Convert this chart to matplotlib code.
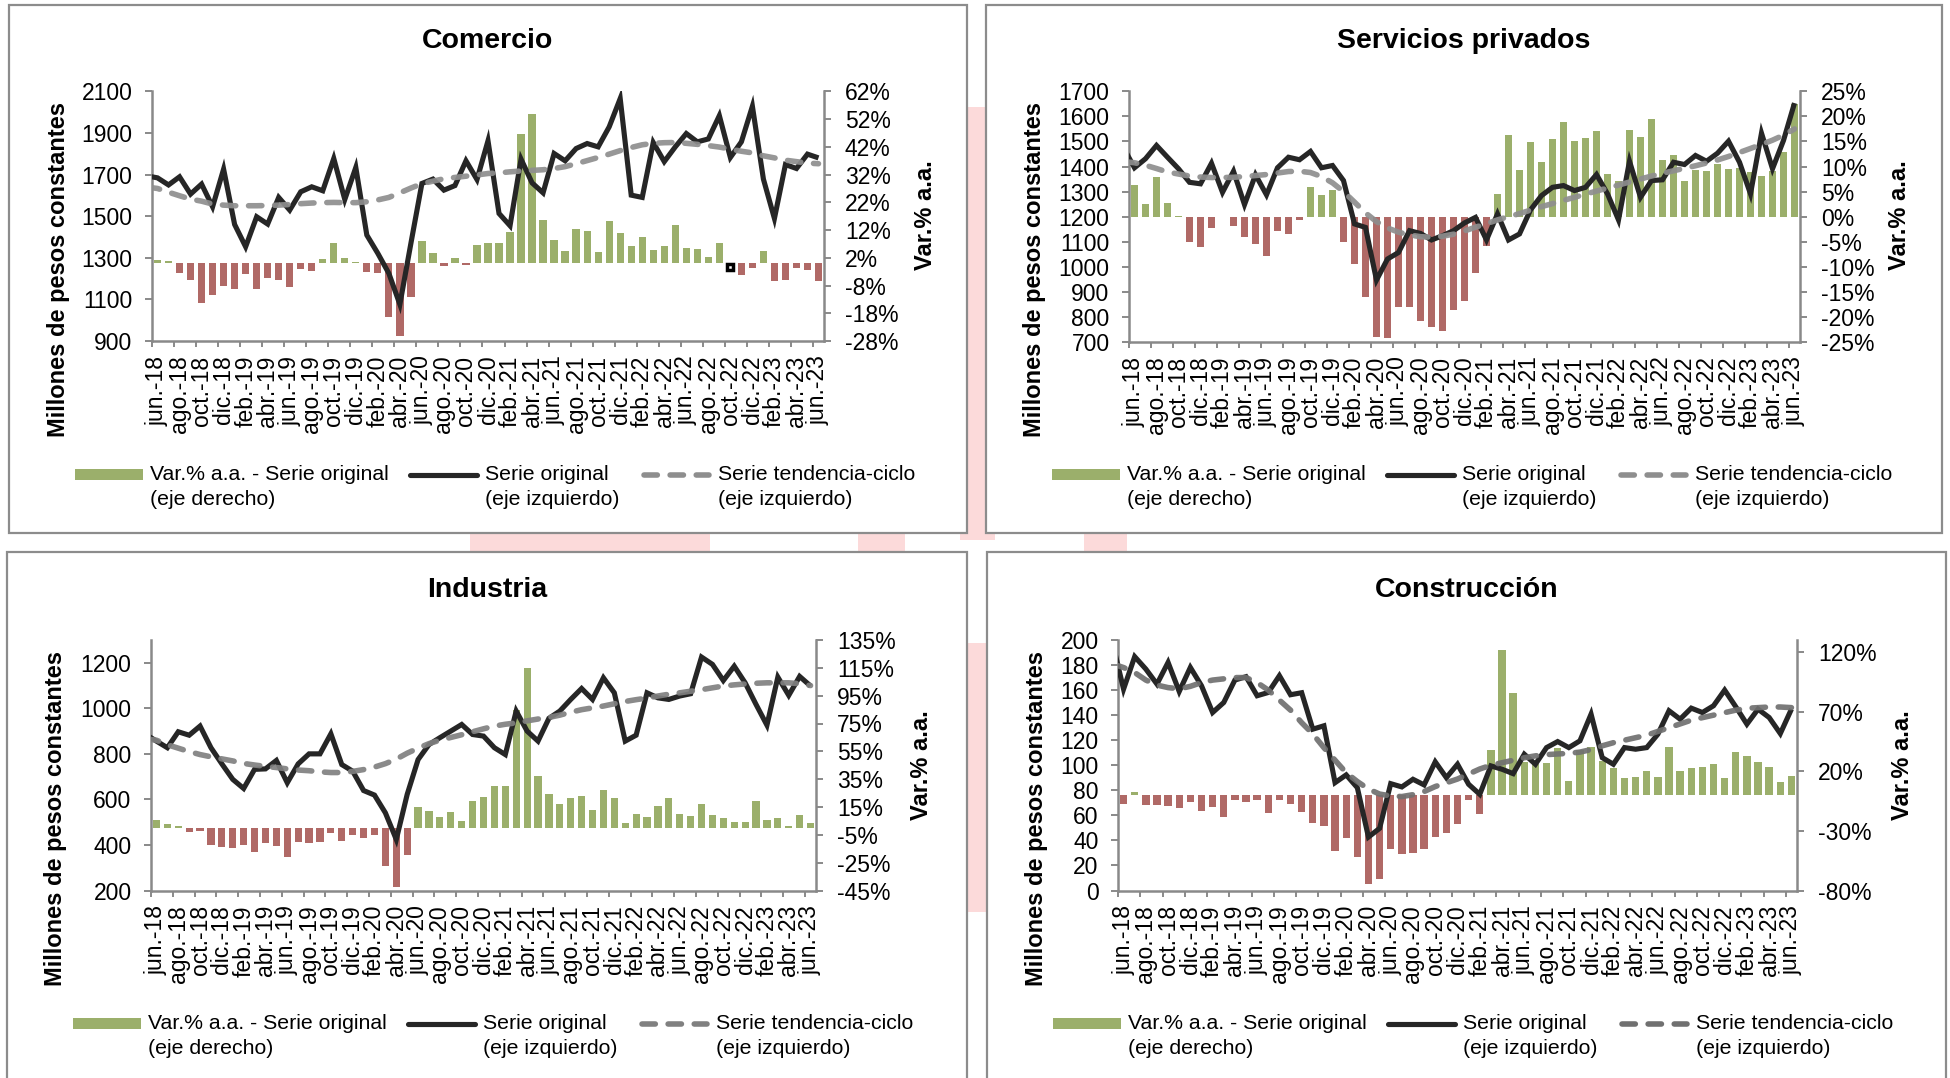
import matplotlib
matplotlib.use("Agg")
import matplotlib.pyplot as plt
from matplotlib.patches import Rectangle
from matplotlib.lines import Line2D
import numpy as np

plt.rcParams['font.family'] = ['Liberation Sans', 'DejaVu Sans']

# ---------------- categories ----------------
meses = ['ene.', 'feb.', 'mar.', 'abr.', 'may.', 'jun.', 'jul.', 'ago.', 'sep.', 'oct.', 'nov.', 'dic.']
categories = [f"{meses[(5 + k) % 12]}-{18 + (5 + k) // 12}" for k in range(61)]   # jun.-18 .. jun.-23
prev_category = 'may.-18'   # line series start one month earlier (clipped at the axis edge)

# ---------------- Comercio ----------------
com_var = [1.1, 0.8, -3.4, -6.0, -14.2, -11.3, -8.1, -9.3, -3.8, -9.3,
           -5.2, -6.0, -8.4, -2.1, -2.7, 1.5, 7.5, 1.8, 0.4, -3.2,
           -3.4, -19.2, -26.2, -12.0, 8.2, 3.8, -0.9, 1.9, -0.5, 6.6,
           7.3, 7.4, 11.2, 46.5, 53.7, 15.6, 8.4, 4.6, 12.2, 11.8,
           4.0, 15.2, 10.9, 6.1, 9.4, 4.8, 6.1, 13.9, 5.6, 5.2,
           2.4, 7.2, -1.5, -4.1, -1.6, 4.6, -6.3, -6.0, -1.6, -2.3,
           -6.3]
com_orig_prev = 1694
com_orig = [1684, 1650, 1689, 1606, 1654, 1545, 1726, 1460, 1353, 1497,
            1462, 1590, 1529, 1617, 1641, 1622, 1777, 1580, 1734, 1409,
            1321, 1225, 1076, 1369, 1657, 1678, 1625, 1647, 1766, 1676,
            1862, 1513, 1454, 1774, 1660, 1612, 1801, 1766, 1825, 1849,
            1833, 1929, 2065, 1601, 1590, 1854, 1762, 1833, 1897, 1857,
            1871, 1983, 1782, 1857, 2028, 1678, 1489, 1748, 1729, 1798,
            1780]
com_trend_prev = 1640
com_trend = [1633, 1615, 1598, 1582, 1572, 1558, 1553, 1550, 1550, 1550,
             1551, 1553, 1556, 1560, 1563, 1565, 1566, 1565, 1565, 1569,
             1578, 1590, 1612, 1635, 1656, 1668, 1680, 1686, 1692, 1698,
             1705, 1708, 1713, 1717, 1720, 1723, 1729, 1738, 1752, 1767,
             1782, 1798, 1815, 1830, 1843, 1850, 1853, 1854, 1850, 1845,
             1839, 1832, 1822, 1812, 1804, 1790, 1780, 1769, 1762, 1755,
             1752]
com_marked = 'oct.-22'

# ---------------- Servicios privados ----------------
ser_var = [6.3, 2.6, 8.0, 2.8, 0.2, -5.0, -6.1, -2.3, -0.1, -1.8,
           -4.1, -5.4, -7.8, -2.8, -3.4, -0.6, 5.9, 4.4, 5.4, -5.0,
           -9.5, -16.0, -24.0, -24.3, -18.0, -18.0, -20.9, -22.0, -22.9, -18.6,
           -16.9, -11.2, -5.9, 4.5, 16.2, 9.3, 14.9, 10.9, 15.5, 18.9,
           15.1, 15.6, 17.1, 8.6, 7.2, 17.3, 15.8, 19.5, 11.2, 12.3,
           7.2, 9.3, 9.1, 10.5, 9.6, 9.8, 8.9, 8.1, 9.1, 12.9,
           22.5]
ser_orig_prev = 1475
ser_orig = [1395, 1431, 1484, 1437, 1391, 1337, 1331, 1413, 1297, 1381,
            1248, 1367, 1287, 1395, 1437, 1427, 1460, 1395, 1404, 1344,
            1171, 1157, 947, 1031, 1057, 1144, 1133, 1107, 1124, 1144,
            1175, 1197, 1107, 1211, 1107, 1131, 1227, 1284, 1317, 1324,
            1304, 1317, 1368, 1291, 1187, 1421, 1277, 1344, 1347, 1417,
            1408, 1444, 1421, 1453, 1501, 1417, 1291, 1533, 1391, 1504,
            1653]
ser_trend_prev = 1420
ser_trend = [1415, 1405, 1392, 1378, 1370, 1362, 1358, 1356, 1356, 1357,
             1360, 1364, 1368, 1374, 1380, 1381, 1376, 1360, 1335, 1300,
             1258, 1215, 1180, 1155, 1138, 1127, 1120, 1118, 1122, 1130,
             1143, 1158, 1172, 1187, 1200, 1212, 1226, 1240, 1252, 1265,
             1277, 1290, 1302, 1314, 1326, 1338, 1350, 1362, 1373, 1383,
             1393, 1403, 1414, 1426, 1440, 1456, 1472, 1488, 1505, 1525,
             1550]

# ---------------- Industria ----------------
ind_var = [5.3, 3.0, 1.1, -2.8, -2.3, -12.1, -13.6, -14.3, -12.1, -17.2,
           -11.2, -12.8, -20.8, -10.0, -11.2, -10.0, -3.5, -9.2, -5.4, -7.1,
           -4.9, -27.2, -42.3, -19.3, 15.0, 11.9, 7.8, 11.4, 4.7, 19.1,
           22.1, 29.9, 30.1, 85.0, 114.6, 37.3, 24.1, 17.2, 21.7, 22.7,
           12.6, 27.0, 21.5, 3.5, 10.0, 8.1, 15.7, 21.7, 10.2, 8.5,
           16.9, 9.5, 7.3, 4.2, 4.2, 19.1, 5.4, 6.8, 1.3, 9.5,
           3.7]
ind_orig_prev = 886
ind_orig = [856, 827, 897, 882, 922, 827, 756, 688, 648, 732,
            734, 771, 673, 756, 800, 800, 888, 753, 724, 639,
            619, 541, 424, 622, 775, 841, 871, 900, 929, 885,
            878, 827, 797, 988, 900, 856, 956, 988, 1039, 1087,
            1039, 1134, 1068, 856, 882, 1068, 1046, 1039, 1054, 1064,
            1225, 1193, 1122, 1185, 1112, 1017, 926, 1137, 1057, 1140,
            1098]
ind_trend_prev = 866
ind_trend = [860, 840, 825, 810, 797, 787, 778, 769, 758, 751,
             745, 740, 734, 729, 726, 721, 718, 718, 723, 731,
             742, 757, 777, 803, 825, 845, 860, 872, 884, 897,
             910, 922, 930, 936, 945, 953, 960, 970, 983, 994,
             1002, 1010, 1020, 1030, 1038, 1045, 1054, 1062, 1068, 1075,
             1082, 1090, 1098, 1103, 1107, 1110, 1112, 1112, 1112, 1108,
             1100]

# ---------------- Construcción ----------------
con_var = [-7.3, 2.8, -8.1, -8.1, -8.9, -10.6, -5.6, -13.1, -9.8, -18.2,
           -4.2, -5.6, -3.9, -14.8, -3.9, -7.3, -14.0, -23.5, -25.7, -46.7,
           -35.8, -51.7, -74.4, -70.2, -45.0, -49.2, -48.4, -45.0, -34.9, -31.6,
           -23.9, -4.5, -16.2, 37.7, 121.6, 85.3, 28.0, 25.7, 27.1, 39.7,
           11.7, 37.7, 40.5, 28.5, 22.9, 14.0, 15.1, 20.4, 14.8, 40.5,
           20.4, 22.6, 23.5, 25.7, 14.3, 36.3, 33.0, 28.0, 23.2, 10.9,
           15.9]
con_orig_prev = 198
con_orig = [160.8, 186.7, 176.8, 164.8, 182.1, 158.9, 178.1, 163.5, 142.1, 150.1,
            168.0, 170.7, 155.5, 158.1, 171.5, 156.3, 157.9, 128.8, 131.5, 86.1,
            92.3, 82.1, 42.7, 49.6, 85.3, 82.7, 88.8, 84.3, 102.7, 90.1,
            100.8, 84.8, 76.8, 99.5, 96.8, 93.3, 108.8, 100.8, 114.1, 118.9,
            114.1, 119.5, 140.8, 106.1, 100.8, 114.1, 112.8, 114.1, 124.8, 143.5,
            136.8, 145.6, 142.1, 147.5, 160.0, 146.7, 132.8, 144.8, 138.1, 125.3,
            144.8]
con_trend_prev = 181
con_trend = [178, 174, 168, 164, 162, 161, 163, 166, 168, 169,
             170, 170, 166, 160, 152, 144, 134, 125, 114, 104,
             94, 87, 81, 77, 75.5, 75, 76.5, 79, 83, 86,
             89, 93, 97, 100, 102, 104, 106, 107.5, 108.5, 109,
             109.5, 110.5, 112.5, 115.5, 118, 120, 122, 124, 127, 130,
             133, 136, 138, 140, 142, 144, 145.5, 146, 146.5, 146.5,
             146]

# ---------------- text ----------------
titles = ['Comercio', 'Servicios privados', 'Industria', 'Construcción']
left_label = 'Millones de pesos constantes'
right_label = 'Var.% a.a.'
legend_labels = [('Var.% a.a. - Serie original', '(eje derecho)'),
                 ('Serie original', '(eje izquierdo)'),
                 ('Serie tendencia-ciclo', '(eje izquierdo)')]

# ---------------- style / layout ----------------
W, H = 1950, 1078
GREEN = '#9BAF6B'
RED = '#B06966'
BLACK = '#262626'
AXC = '#898989'
FRAME = '#8C8C8C'
PINK = '#FCDADA'

def fx(x):
    return x / W

def fy(y):
    return 1 - y / H

panels = [
    dict(title=titles[0], var=com_var, orig=[com_orig_prev] + com_orig, trend=[com_trend_prev] + com_trend,
         lim=(900, 2100), lticks=list(range(900, 2101, 200)),
         rlim=(-28, 62), rticks=list(range(-28, 63, 10)),
         box=(152, 91.3, 824, 341), frame=(9, 5, 967, 533), title_y=40.5,
         ylab=(59, 269.5), rlab=(925, 215.6), leg_y=(474.5, 499.3), tcol='#8E8E8E'),
    dict(title=titles[1], var=ser_var, orig=[ser_orig_prev] + ser_orig, trend=[ser_trend_prev] + ser_trend,
         lim=(700, 1700), lticks=list(range(700, 1701, 100)),
         rlim=(-25, 25), rticks=list(range(-25, 26, 5)),
         box=(1129, 91.3, 1800, 342), frame=(986, 5, 1942, 533), title_y=40.5,
         ylab=(1035, 269.5), rlab=(1900, 215.6), leg_y=(474.5, 499.3), tcol='#8E8E8E'),
    dict(title=titles[2], var=ind_var, orig=[ind_orig_prev] + ind_orig, trend=[ind_trend_prev] + ind_trend,
         lim=(200, 1300), lticks=list(range(200, 1201, 200)),
         rlim=(-45, 135), rticks=list(range(-45, 136, 20)),
         box=(151, 640, 816, 890.5), frame=(7, 552, 967, 1090), title_y=590,
         ylab=(56, 818.6), rlab=(922, 764.7), leg_y=(1023.8, 1049), tcol='#808080'),
    dict(title=titles[3], var=con_var, orig=[con_orig_prev] + con_orig, trend=[con_trend_prev] + con_trend,
         lim=(0, 200), lticks=list(range(0, 201, 20)),
         rlim=(-80, 130), rticks=list(range(-80, 121, 50)),
         box=(1118, 640, 1797, 890.5), frame=(987, 552, 1946, 1090), title_y=590,
         ylab=(1036, 818.6), rlab=(1902.5, 764.7), leg_y=(1023.8, 1049), tcol='#707070'),
]

fig = plt.figure(figsize=(W / 100, H / 100), dpi=100)
fig.patch.set_facecolor('white')

# faint background watermark, only visible in the gaps between the panels
for (wx0, wy0, wx1, wy1) in [(960, 107, 995, 540), (470, 525, 710, 560), (858, 525, 905, 560),
                             (1084, 525, 1127, 560), (960, 643, 995, 912)]:
    fig.patches.append(Rectangle((fx(wx0), fy(wy1)), (wx1 - wx0) / W, (wy1 - wy0) / H,
                                 transform=fig.transFigure, facecolor=PINK,
                                 edgecolor='none', zorder=-2))

TICK_FS = 16.5
n = len(categories)
x_bar = np.arange(n)
x_line = np.arange(-1, n)

for k, p in enumerate(panels):
    # frame
    fl, ft, fr, fb = p['frame']
    fig.patches.append(Rectangle((fx(fl), fy(fb)), (fr - fl) / W, (fb - ft) / H,
                                 transform=fig.transFigure, facecolor='white',
                                 edgecolor=FRAME, linewidth=1.6, zorder=0))
    x0, y0, x1, y1 = p['box']
    rect = [fx(x0), fy(y1), (x1 - x0) / W, (y1 - y0) / H]
    ax = fig.add_axes(rect)
    axb = ax.twinx()
    ax.set_zorder(2)
    axb.set_zorder(1)
    ax.patch.set_visible(False)
    axb.patch.set_facecolor('white')

    # bars (right axis)
    cols = [GREEN if v >= 0 else RED for v in p['var']]
    axb.bar(x_bar, p['var'], width=0.66, color=cols, edgecolor='none', zorder=1)
    axb.set_ylim(*p['rlim'])
    axb.set_yticks(p['rticks'])
    axb.set_yticklabels([f"{t}%" for t in p['rticks']])

    if k == 0:
        idx = categories.index(com_marked)
        axb.plot([idx], [com_var[idx]], marker='s', markersize=4.8, markerfacecolor='white',
                 markeredgecolor='black', markeredgewidth=2.5, linestyle='none', zorder=6)

    # lines (left axis)
    ax.plot(x_line, p['orig'], color=BLACK, linewidth=3.7, solid_joinstyle='miter',
            solid_capstyle='butt', zorder=3, clip_on=True)
    ax.plot(x_line, p['trend'], color=p['tcol'], linewidth=4.0, linestyle=(0, (2.4, 2.3)),
            dash_capstyle='round', alpha=0.92, zorder=4, clip_on=True)
    ax.set_ylim(*p['lim'])
    ax.set_yticks(p['lticks'])
    ax.set_xlim(-0.5, n - 0.5)

    # x ticks: marks every 2 categories at boundaries, labels on every 2nd category
    ax.set_xticks(np.arange(-0.5, n - 1, 2))
    ax.set_xticklabels([])
    ax.set_xticks(np.arange(0, n, 2), minor=True)
    ax.set_xticklabels(categories[0::2], minor=True, rotation=90)
    ax.tick_params(axis='x', which='major', direction='out', length=4.5, width=1.4, color=AXC)
    ax.tick_params(axis='x', which='minor', length=0, pad=10.5, labelsize=TICK_FS)
    ax.tick_params(axis='y', direction='out', length=5, width=1.4, color=AXC,
                   labelsize=TICK_FS, pad=9)
    axb.tick_params(axis='y', direction='out', length=5, width=1.4, color=AXC,
                    labelsize=TICK_FS, pad=10)

    for s in ['top', 'right']:
        ax.spines[s].set_visible(False)
    for s in ['left', 'bottom']:
        ax.spines[s].set_color(AXC)
        ax.spines[s].set_linewidth(1.8)
    for s in ['top', 'left', 'bottom']:
        axb.spines[s].set_visible(False)
    axb.spines['right'].set_color(AXC)
    axb.spines['right'].set_linewidth(1.8)

    # titles and axis labels
    fig.text(fx((fl + fr) / 2), fy(p['title_y']), p['title'], ha='center', va='center',
             fontsize=20.5, fontweight='bold')
    fig.text(fx(p['ylab'][0]), fy(p['ylab'][1]), left_label, rotation=90, ha='center',
             va='center', fontsize=17, fontweight='bold')
    fig.text(fx(p['rlab'][0]), fy(p['rlab'][1]), right_label, rotation=90, ha='center',
             va='center', fontsize=17, fontweight='bold')

    # legend (manual, to reproduce the two-line entries)
    r1, r2 = p['leg_y']
    LFS = 15.3
    fig.patches.append(Rectangle((fx(fl + 66), fy(r1 + 5.5)), 68 / W, 11 / H,
                                 transform=fig.transFigure, facecolor=GREEN,
                                 edgecolor='none', zorder=3))
    fig.lines.append(Line2D([fx(fl + 401), fx(fl + 468)], [fy(r1), fy(r1)],
                            transform=fig.transFigure, color=BLACK, linewidth=3.7,
                            solid_capstyle='round', zorder=3))
    fig.lines.append(Line2D([fx(fl + 635), fx(fl + 700)], [fy(r1), fy(r1)],
                            transform=fig.transFigure, color=p['tcol'], linewidth=4.0,
                            linestyle=(0, (2.4, 2.3)), dash_capstyle='round', zorder=3))
    for (lx, (t1, t2)) in zip([141, 476, 709], legend_labels):
        fig.text(fx(fl + lx), fy(r1), t1, ha='left', va='center', fontsize=LFS)
        fig.text(fx(fl + lx), fy(r2), t2, ha='left', va='center', fontsize=LFS)

fig.savefig('out.png', dpi=100, facecolor='white')
